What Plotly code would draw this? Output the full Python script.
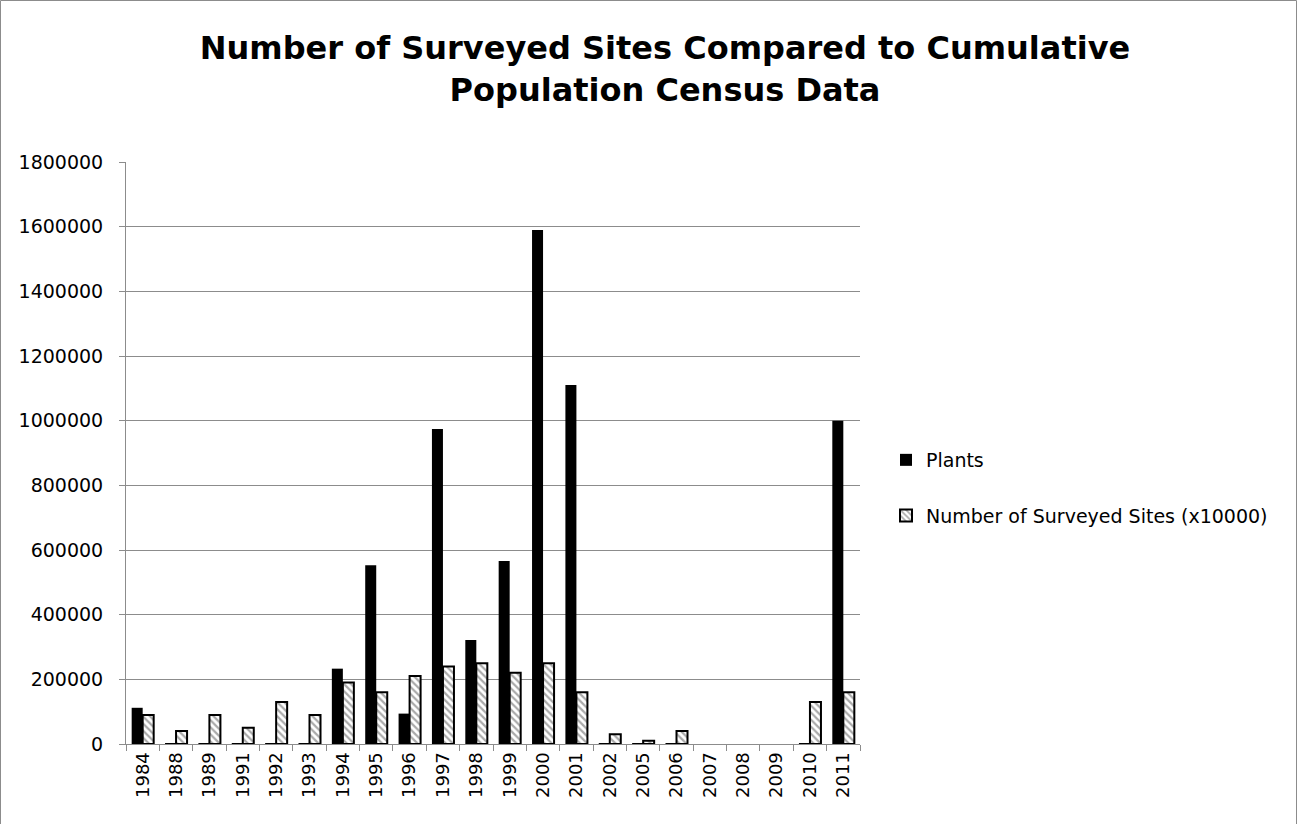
import plotly.graph_objects as go

# Survey years and the two series
years = ["1984", "1988", "1989", "1991", "1992", "1993", "1994", "1995", "1996",
         "1997", "1998", "1999", "2000", "2001", "2002", "2005", "2006", "2007",
         "2008", "2009", "2010", "2011"]
plants = [112000, 2000, 3000, 3000, 3000, 1000, 233000, 553000, 94000,
          974000, 322000, 566000, 1590000, 1110000, 2000, 2000, 2000, None,
          None, None, 2000, 1000000]
surveyed_sites = [9, 4, 9, 5, 13, 9, 19, 16, 21, 24, 25, 22, 25, 16, 3, 1, 4,
                  None, None, None, 13, 16]
site_scale = 10000

W, H = 1298, 824
L, R, T, B = 126, 438, 162, 80
pw, ph = W - L - R, H - T - B

fig = go.Figure()
fig.add_trace(go.Bar(
    x=years, y=plants, name="Plants", legendgroup="plants",
    marker=dict(color="black", line=dict(color="black", width=0)),
))
fig.add_trace(go.Bar(
    x=years,
    y=[None if v is None else v * site_scale for v in surveyed_sites],
    name="Number of Surveyed Sites (x10000)", legendgroup="sites",
    marker=dict(color="white", line=dict(color="black", width=2),
                pattern=dict(shape="\\", fgcolor="#555555", bgcolor="white",
                             size=5, solidity=0.45)),
))

font_family = "DejaVu Sans, Liberation Sans, sans-serif"

fig.update_layout(
    width=W, height=H,
    margin=dict(l=L, r=R, t=T, b=B, autoexpand=False),
    paper_bgcolor="white", plot_bgcolor="white",
    barmode="group", bargap=0.34, bargroupgap=0.0,
    title=dict(
        text="<b>Number of Surveyed Sites Compared to Cumulative<br>Population Census Data</b>",
        x=665 / W, xanchor="center", xref="container", y=1 - 59 / H, yanchor="middle",
        font=dict(family=font_family, size=32, color="black"),
    ),
    font=dict(family=font_family, size=18, color="black"),
    legend=dict(
        x=(886 - L) / pw, xanchor="left", y=(H - B - 488) / ph, yanchor="middle",
        font=dict(size=19), bgcolor="rgba(0,0,0,0)", tracegroupgap=28,
        itemwidth=30,
    ),
    showlegend=True,
)

fig.update_yaxes(
    range=[0, 1800000], dtick=200000, tickformat="d",
    showgrid=True, gridcolor="#8c8c8c", gridwidth=1,
    showline=True, linecolor="#8c8c8c", linewidth=1,
    ticks="outside", ticklen=6, tickcolor="#8c8c8c",
    zeroline=False, tickfont=dict(size=19), ticklabelstandoff=12,
)
fig.update_xaxes(
    type="category", tickangle=-90,
    showline=True, linecolor="#8c8c8c", linewidth=1,
    ticks="outside", ticklen=6, tickcolor="#8c8c8c", tickson="boundaries",
    showgrid=False, tickfont=dict(size=18),
)

# outer chart frame
fig.add_shape(type="rect", xref="paper", yref="paper",
              x0=(0.5 - L) / pw, x1=(W - 1.5 - L) / pw,
              y0=(B - H + 1.5) / ph + 0, y1=(H - B - 0.5) / ph,
              line=dict(color="#8c8c8c", width=1), fillcolor="rgba(0,0,0,0)",
              layer="below")

fig.write_html("out.html")
